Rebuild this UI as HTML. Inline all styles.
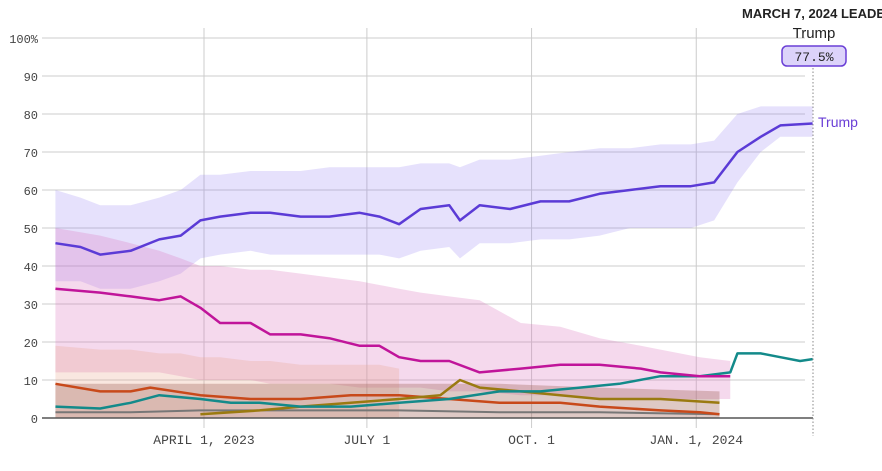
<!DOCTYPE html>
<html><head><meta charset="utf-8"><style>
body{margin:0;background:#fff;}
svg{display:block;font-family:"Liberation Mono",monospace;}
</style></head><body>
<svg id="chart" width="882" height="471" viewBox="0 0 882 471">
<g id="grid"></g>
<g id="bands"></g>
<g id="lines"></g>
<g id="axes"></g>
<text x="742" y="18" font-family="Liberation Sans, sans-serif" font-weight="bold" font-size="13" fill="#222">MARCH 7, 2024 LEADER</text>
<text x="814" y="38" text-anchor="middle" font-family="Liberation Sans, sans-serif" font-size="15" fill="#222">Trump</text>
<rect x="782" y="46" width="64" height="20" rx="5" fill="#dcd3fa" stroke="#6a3fd6" stroke-width="1.5"/>
<text x="814" y="61" text-anchor="middle" font-size="13" fill="#222">77.5%</text>
<line x1="813" y1="68" x2="813" y2="436" stroke="#888" stroke-dasharray="1.5,2"/>
<text x="818" y="127" font-family="Liberation Sans, sans-serif" font-size="14" fill="#6a3fd6">Trump</text>
</svg>
<script>
const days=[-83,-69,-58,-41,-25,-13,-2,9,26,37,54,70,87,98,109,121,137,143,154,171,188,204,221,238,255,272,285,298,311,322,340];
const trump=[46,45,43,44,47,48,52,53,54,54,53,53,54,53,51,55,56,52,56,55,57,57,59,60,61,61,62,70,74,77,77.5];
const trumpHi=[60,58,56,56,58,60,64,64,65,65,65,66,66,66,66,67,67,66,68,68,69,70,71,71,72,72,73,80,82,82,82];
const trumpLo=[36,36,34,34,36,38,42,43,44,43,43,43,43,43,42,44,45,42,46,46,47,47,48,50,50,50,52,62,70,74,74];
const desDays=[-83,-58,-41,-25,-13,-2,9,26,37,54,70,87,98,109,121,137,154,177,199,221,244,255,277,294];
const desantis=[34,33,32,31,32,29,25,25,22,22,21,19,19,16,15,15,12,13,14,14,13,12,11,11];
const desHi=[50,48,46,44,42,40,40,39,39,38,37,36,35,34,33,32,31,25,24,21,19,18,16,15];
const desLo=[12,12,12,12,11,10,10,10,9,9,9,8,8,8,8,7,7,6,6,5,5,5,5,5];
const haleyDays=[-83,-58,-41,-25,-2,15,31,54,82,109,137,165,188,210,232,255,277,294,298,311,322,333,340];
const haley=[3,2.5,4,6,5,4,4,3,3,4,5,7,7,8,9,11,11,12,17,17,16,15,15.5];
const penceDays=[-83,-58,-41,-30,-2,26,54,82,109,137,165,199,221,255,277,288];
const pence=[9,7,7,8,6,5,5,6,6,5,4,4,3,2,1.5,1];
const ramDays=[-2,31,54,82,109,132,143,154,177,199,221,255,288];
const ram=[1,2,3,4,5,6,10,8,7,6,5,5,4];
const greyDays=[-83,-41,-2,54,109,165,221,288];
const grey=[1.5,1.5,2,2,2,1.5,1.5,1];
const yTicks=[0,10,20,30,40,50,60,70,80,90,100];
const xTickDays=[0,91,183,275];
const xTickLabels=["APRIL 1, 2023","JULY 1","OCT. 1","JAN. 1, 2024"];

const NS="http://www.w3.org/2000/svg";
const X=d=>204+d*1.79;
const Y=v=>418-v*3.8;
function mk(tag,attrs,parent){const e=document.createElementNS(NS,tag);for(const k in attrs)e.setAttribute(k,attrs[k]);parent.appendChild(e);return e;}
const grid=document.getElementById('grid'),bands=document.getElementById('bands'),lines=document.getElementById('lines'),axes=document.getElementById('axes');
yTicks.forEach(t=>{
 const l=mk('line',{x1:42,x2:805,y1:Y(t),y2:Y(t),stroke:'#ccc','stroke-width':1},grid);
 
 
 const tx=mk('text',{x:38,y:Y(t)+5,'text-anchor':'end','font-size':12,fill:'#444'},axes);
 tx.textContent=t===100?'100%':String(t);
 
 
});
xTickDays.forEach((d,i)=>{
 const l=mk('line',{x1:X(d),x2:X(d),y1:28,y2:428,stroke:'#ccc','stroke-width':1},grid);
 
 
 const tx=mk('text',{x:X(d),y:444,'text-anchor':'middle','font-size':13,fill:'#444'},axes);
 tx.textContent=xTickLabels[i];
 
 
});
const base=mk('line',{x1:42,x2:813,y1:Y(0),y2:Y(0),stroke:'#555','stroke-width':1.5},axes);


function band(ds,hi,lo,fill,name){
 let p=ds.map((d,i)=>`${X(d)},${Y(hi[i])}`).join(' ')+' '+ds.slice().reverse().map((d,j)=>`${X(d)},${Y(lo[ds.length-1-j])}`).join(' ');
 const e=mk('polygon',{points:p,fill:fill},bands);
 
 
}
function line(ds,vs,color,name,w){
 const e=mk('polyline',{points:ds.map((d,i)=>`${X(d)},${Y(vs[i])}`).join(' '),fill:'none',stroke:color,'stroke-width':w||2.5,'stroke-linejoin':'round'},lines);
 
 
}
band(days,trumpHi,trumpLo,'rgba(140,120,240,0.22)','trump-band');
band(desDays,desHi,desLo,'rgba(220,120,190,0.28)','desantis-band');
band(desDays.slice(0,14),[19,18,18,17,17,16,16,15,15,14,14,14,14,13],[0,0,0,0,0,0,0,0,0,0,0,0,0,0],'rgba(230,160,130,0.25)','pence-band');
band(greyDays,[9,9,9,9,9,9,8,7],[0,0,0,0,0,0,0,0],'rgba(160,100,90,0.35)','others-band');
line(greyDays,grey,'#777','others-line',2);
line(penceDays,pence,'#c8491a','pence-line');
line(ramDays,ram,'#9a7a10','ramaswamy-line');
line(haleyDays,haley,'#138a8a','haley-line');
line(desDays,desantis,'#c0159a','desantis-line');
line(days,trump,'#5b3bd6','trump-line');
</script>
</body></html>
